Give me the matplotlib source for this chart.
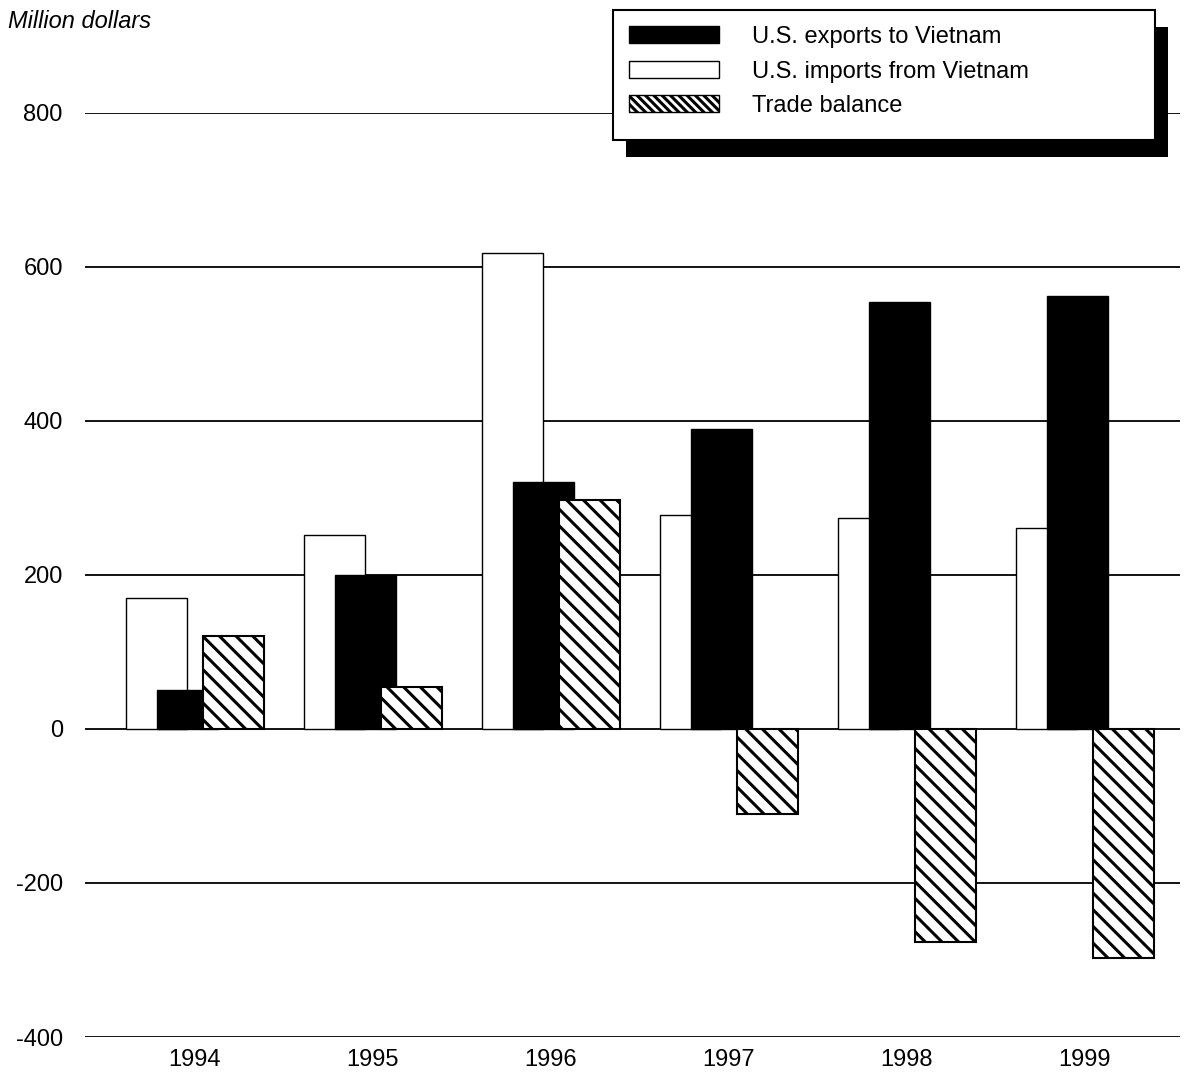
import numpy as np
import matplotlib
matplotlib.use("Agg")
import matplotlib.pyplot as plt
from matplotlib.patches import Rectangle, Patch

# =========================
# Data (million dollars)
# =========================
years = ["1994", "1995", "1996", "1997", "1998", "1999"]
imports_from_vn = [170, 252, 618, 278, 274, 261]
exports_to_vn = [51, 200, 321, 390, 555, 562]
trade_balance = [121, 55, 297, -110, -277, -297]

plt.rcParams["font.family"] = ["Liberation Sans", "DejaVu Sans"]
plt.rcParams["hatch.linewidth"] = 2.2
plt.rcParams["hatch.color"] = "black"

W, H = 1190, 1076
fig = plt.figure(figsize=(W / 100, H / 100), dpi=100)
ax = fig.add_axes([85 / W, 1 - 1037 / H, (1180 - 85) / W, (1037 - 113) / H])

x = np.arange(len(years))
width = 0.343

# imports behind, exports over them, balance in front
ax.bar(x - 0.388, imports_from_vn, width, align="edge",
       facecolor="white", edgecolor="black", linewidth=1.0, zorder=2)
ax.bar(x - 0.213, exports_to_vn, width, align="edge",
       facecolor="black", edgecolor="black", linewidth=1.0, zorder=3)
ax.bar(x + 0.045, trade_balance, width, align="edge",
       facecolor="white", edgecolor="black", linewidth=1.5,
       hatch="\\\\", zorder=4)

ax.set_ylim(-400, 800)
ax.set_xlim(-0.618, 5.534)
ax.set_yticks(np.arange(-400, 801, 200))
ax.set_yticklabels([str(v) for v in range(-400, 801, 200)], fontsize=17)
ax.set_xticks(x)
ax.set_xticklabels(years, fontsize=17)
ax.tick_params(axis="y", length=0, pad=16)
ax.tick_params(axis="x", length=0, pad=9)
for s in ax.spines.values():
    s.set_visible(False)
ax.yaxis.grid(True, color="black", linewidth=1.3)
ax.xaxis.grid(False)
ax.set_axisbelow(True)

fig.text(8 / W, 1 - 28 / H, "Million dollars", fontsize=17,
         style="italic", va="baseline", ha="left")

# legend: framed box with a solid offset shadow
box_l, box_t, box_r, box_b = 613, 10, 1155, 140
bw, bh = (box_r - box_l) / W, (box_b - box_t) / H
shadow = Rectangle(((box_l + 13) / W, 1 - (box_b + 17) / H), bw, bh,
                   transform=fig.transFigure, facecolor="black",
                   edgecolor="none", zorder=4)
box = Rectangle((box_l / W, 1 - box_b / H), bw, bh,
                transform=fig.transFigure, facecolor="white",
                edgecolor="black", linewidth=1.5, zorder=4.5)
fig.patches.extend([shadow, box])

handles = [
    Patch(facecolor="black", edgecolor="black", label="U.S. exports to Vietnam"),
    Patch(facecolor="white", edgecolor="black", label="U.S. imports from Vietnam"),
    Patch(facecolor="white", edgecolor="black", hatch="\\\\\\\\", label="Trade balance"),
]
leg = fig.legend(handles=handles, loc="upper left",
                 bbox_to_anchor=(box_l / W, 1 - box_t / H),
                 fontsize=17, frameon=False,
                 handlelength=3.8, handleheight=0.75, handletextpad=1.4,
                 labelspacing=0.53, borderpad=0.68, borderaxespad=0)
leg.set_zorder(5)

fig.savefig("out.png", dpi=100)
